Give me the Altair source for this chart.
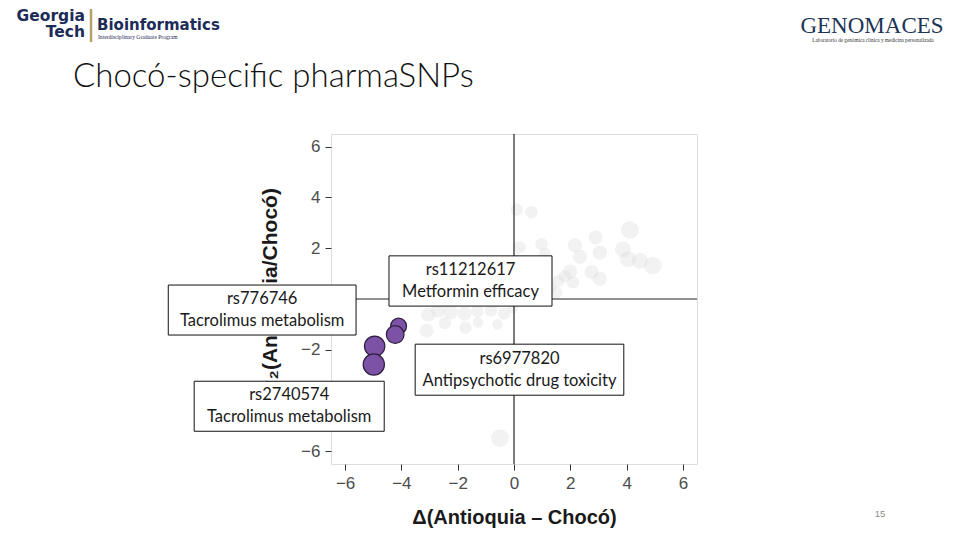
import altair as alt
import pandas as pd

# ---------------- data ----------------
# background pharmaSNPs: x = Δ(Antioquia − Chocó), y = log2(Antioquia/Chocó), w = bubble weight
grey_x = [0.10, 0.62, 4.12, 2.90, 2.16, 0.98, 0.20, 3.05, 3.87, 4.05, 4.47, 4.93,
          2.34, 1.10, 1.99, 2.75, 3.05, 2.10, 1.57, 1.50, 1.80, 1.28, 0.40,
          -3.05, -2.70, -2.25, -1.76, -1.30, -0.82, -0.35, -3.10, -1.72, -0.58,
          -1.28, -0.50, -0.05, -2.45]
grey_y = [3.52, 3.42, 2.72, 2.42, 2.12, 2.16, 2.03, 1.83, 1.95, 1.57, 1.50, 1.32,
          1.66, 1.77, 1.08, 1.06, 0.80, 0.66, 0.71, 0.25, 0.90, 0.45, 0.30,
          -0.62, -0.45, -0.52, -0.58, -0.48, -0.45, -0.58, -1.25, -1.13, -1.00,
          -0.92, -5.48, -0.35, -0.95]
grey_w = [7, 7, 10, 8, 8, 7, 7, 8, 9, 9, 9, 10,
          8, 7, 8, 8, 8, 7, 7, 7, 7, 7, 7,
          8, 8, 8, 8, 7, 7, 7, 8, 7, 6,
          6, 10, 6, 7]

# Chocó-specific pharmaSNPs (highlighted)
hl_x = [-4.10, -4.22, -4.95, -4.98]
hl_y = [-1.07, -1.40, -1.86, -2.58]
hl_w = [9, 10, 11.5, 12]

# annotation boxes
ann_id = ["rs776746", "rs11212617", "rs6977820", "rs2740574"]
ann_trait = ["Tacrolimus metabolism", "Metformin efficacy",
             "Antipsychotic drug toxicity", "Tacrolimus metabolism"]
ann_x1 = [-12.28, -4.44, -3.51, -11.36]
ann_x2 = [-5.61, 1.35, 3.90, -4.61]
ann_y1 = [0.55, 1.70, -1.78, -3.24]
ann_y2 = [-1.42, -0.28, -3.79, -5.21]

tick_vals = [-6, -4, -2, 0, 2, 4, 6]

# ---------------- tables ----------------
grey = pd.DataFrame({"x": grey_x, "y": grey_y, "w": grey_w})
hl = pd.DataFrame({"x": hl_x, "y": hl_y, "w": hl_w})
ann = pd.DataFrame({"x": ann_x1, "x2": ann_x2, "y": ann_y1, "y2": ann_y2,
                    "label": [a + "\n" + b for a, b in zip(ann_id, ann_trait)]})
ann["xc"] = (ann["x"] + ann["x2"]) / 2
ann["yc"] = (ann["y"] + ann["y2"]) / 2
zero = pd.DataFrame({"v": [0]})

W, H = 366, 330
xs = alt.Scale(domain=[-6.5, 6.5], nice=False, zero=False)
ys = alt.Scale(domain=[-6.5, 6.5], nice=False, zero=False)
ss = alt.Scale(type="pow", exponent=2, domain=[0, 12], range=[0, 452])

axis_common = dict(values=tick_vals, grid=False, domain=False, ticks=True,
                   tickColor="#333333", tickSize=6, labelFont="Liberation Sans",
                   labelFontSize=17, labelColor="#4d4d4d", labelFlush=False,
                   labelOverlap=False, titleFont="Liberation Sans",
                   titleFontWeight="bold", titleColor="#1a1a1a", zindex=0)
xaxis = alt.Axis(title="Δ(Antioquia – Chocó)", labelPadding=5, titleFontSize=20,
                 titleX=183, titleY=53, titleBaseline="middle", titleAlign="center",
                 **axis_common)
yaxis = alt.Axis(title="log₂(Antioquia/Chocó)", labelPadding=5, titleFontSize=21,
                 titleAngle=270, titleX=-61, titleY=165, titleBaseline="middle",
                 titleAlign="center", **axis_common)


def X(f):
    return alt.X(f, type="quantitative", scale=xs, axis=xaxis)


def Y(f):
    return alt.Y(f, type="quantitative", scale=ys, axis=yaxis)


grey_pts = alt.Chart(grey).mark_circle(color="#d8d8d8", opacity=0.32).encode(
    x=X("x"), y=Y("y"), size=alt.Size("w:Q", scale=ss, legend=None))

vrule = alt.Chart(zero).mark_rule(color="#222222", strokeWidth=1.2).encode(x=X("v"))
hrule = alt.Chart(zero).mark_rule(color="#222222", strokeWidth=1.2).encode(y=Y("v"))

hl_pts = alt.Chart(hl).mark_point(filled=True, shape="circle", fill="#7b52a5",
                                  stroke="#2e1f3e", strokeWidth=1.2, opacity=1).encode(
    x=X("x"), y=Y("y"), size=alt.Size("w:Q", scale=ss, legend=None))

boxes = alt.Chart(ann).mark_rect(fill="white", stroke="#111111", strokeWidth=1).encode(
    x=X("x"), x2="x2", y=Y("y"), y2="y2")

box_text = alt.Chart(ann).mark_text(font="Lato", fontSize=16.5, color="#1a1a1a",
                                    lineBreak="\n", lineHeight=22, align="center",
                                    baseline="middle", dy=-11).encode(
    x=X("xc"), y=Y("yc"), text="label:N")

# ---------------- slide decorations (pixel offsets from the plot origin) ----------------
OX, OY = 331, 134


def deco(text, px, py, **kw):
    return alt.Chart(pd.DataFrame({"t": [text]})).mark_text(**kw).encode(
        x=alt.value(px - OX), y=alt.value(py - OY), text="t:N")


title = deco("Chocó-specific pharmaSNPs", 73, 87, font="Lato", fontWeight=300,
             fontSize=33, color="#111111", align="left", baseline="alphabetic")
gt1 = deco("Georgia", 85, 21, font="DejaVu Sans", fontWeight="bold", fontSize=15.5,
           color="#1d2b57", align="right", baseline="alphabetic")
gt2 = deco("Tech", 85, 37, font="DejaVu Sans", fontWeight="bold", fontSize=15.5,
           color="#1d2b57", align="right", baseline="alphabetic")
bio = deco("Bioinformatics", 97, 30, font="DejaVu Sans", fontWeight="bold",
           fontSize=15, color="#1d2b57", align="left", baseline="alphabetic")
bio2 = deco("Interdisciplinary Graduate Program", 98, 39, font="Liberation Serif",
            fontSize=5.6, color="#1d2b57", align="left", baseline="alphabetic")
gold = alt.Chart(pd.DataFrame({"a": [0]})).mark_rule(color="#b3a369", strokeWidth=2.5).encode(
    x=alt.value(91 - OX), y=alt.value(9 - OY), y2=alt.value(42 - OY))
geno = deco("GENOMACES", 872, 33, font="Liberation Serif", fontSize=23,
            color="#1d3557", align="center", baseline="alphabetic")
geno2 = deco("Laboratorio de genómica clínica y medicina personalizada", 873, 42,
             font="Liberation Serif", fontSize=5.2, color="#333333", align="center",
             baseline="alphabetic")
page = deco("15", 880, 514, font="Liberation Sans", fontSize=9.5, color="#8c8c8c",
            align="center", baseline="middle")

chart = alt.layer(
    grey_pts, vrule, hrule, hl_pts, boxes, box_text,
    title, gt1, gt2, bio, bio2, gold, geno, geno2, page
).properties(
    width=W, height=H,
    autosize=alt.AutoSizeParams(type="none"),
    padding={"left": OX - 8, "top": OY - 8, "right": 250, "bottom": 67},
).configure_view(stroke="#333333", strokeWidth=1).configure(background="white")

chart.save("out.html", embed_options={"renderer": "svg", "actions": False})
